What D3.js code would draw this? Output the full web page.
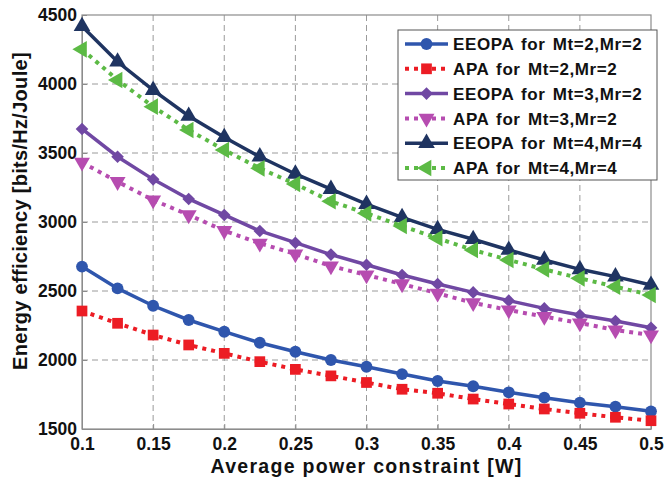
<!DOCTYPE html>
<html>
<head>
<meta charset="utf-8">
<script src="https://cdn.jsdelivr.net/npm/d3@7"></script>
<style>
  body { margin: 0; background: #fff; }
  svg { display: block; font-family: "Liberation Sans", Arial, sans-serif; font-weight: bold; }
</style>
</head>
<body>
<svg id="chart"></svg>
<script>
// x values: average power constraint [W]
const power = [0.1, 0.125, 0.15, 0.175, 0.2, 0.225, 0.25, 0.275, 0.3, 0.325, 0.35, 0.375, 0.4, 0.425, 0.45, 0.475, 0.5];

// energy efficiency [bits/Hz/Joule]
const eeopa22 = [2677, 2519, 2393, 2290, 2205, 2125, 2060, 2000, 1951, 1898, 1848, 1810, 1766, 1727, 1691, 1662, 1628];
const apa22   = [2355, 2266, 2181, 2109, 2048, 1988, 1932, 1885, 1837, 1788, 1759, 1717, 1681, 1645, 1614, 1585, 1560];
const eeopa32 = [3674, 3473, 3309, 3167, 3051, 2935, 2850, 2764, 2690, 2616, 2551, 2490, 2430, 2374, 2326, 2282, 2234];
const apa32   = [3432, 3292, 3159, 3051, 2937, 2846, 2768, 2681, 2616, 2551, 2483, 2414, 2362, 2314, 2268, 2217, 2181];
const eeopa44 = [4418, 4161, 3956, 3768, 3614, 3473, 3348, 3238, 3129, 3034, 2947, 2875, 2797, 2725, 2657, 2604, 2543];
const apa44   = [4251, 4029, 3836, 3667, 3522, 3389, 3275, 3150, 3063, 2971, 2882, 2797, 2725, 2657, 2592, 2531, 2471];

const xTicks = [0.1, 0.15, 0.2, 0.25, 0.3, 0.35, 0.4, 0.45, 0.5];
const yTicks = [1500, 2000, 2500, 3000, 3500, 4000, 4500];

const seriesNames = [
  'EEOPA for Mt=2,Mr=2', 'APA for Mt=2,Mr=2',
  'EEOPA for Mt=3,Mr=2', 'APA for Mt=3,Mr=2',
  'EEOPA for Mt=4,Mr=4', 'APA for Mt=4,Mr=4'
];

const series = [
  { name: seriesNames[0], values: eeopa22, color: '#2f56ad', dash: null, symbol: d3.symbolCircle, size: 110, rot: 0 },
  { name: seriesNames[1], values: apa22, color: '#ec1c24', dash: '4,5', symbol: d3.symbolSquare, size: 115, rot: 0 },
  { name: seriesNames[2], values: eeopa32, color: '#7048a3', dash: null, symbol: d3.symbolSquare, size: 80, rot: 45 },
  { name: seriesNames[3], values: apa32, color: '#b64cb0', dash: '4,5', symbol: d3.symbolTriangle, size: 110, rot: 180 },
  { name: seriesNames[4], values: eeopa44, color: '#1f3461', dash: null, symbol: d3.symbolTriangle, size: 120, rot: 0 },
  { name: seriesNames[5], values: apa44, color: '#5cba45', dash: '4,5', symbol: d3.symbolTriangle, size: 120, rot: -90 }
];

const W = 665, H = 481;
const margin = { top: 15, right: 14, bottom: 52, left: 82 };
const width = W - margin.left - margin.right;
const height = H - margin.top - margin.bottom;

const svg = d3.select('#chart').attr('width', W).attr('height', H);
const g = svg.append('g').attr('transform', `translate(${margin.left},${margin.top})`);

const x = d3.scaleLinear().domain([0.1, 0.5]).range([0, width]);
const y = d3.scaleLinear().domain([1500, 4500]).range([height, 0]);

// grid
g.append('g').selectAll('line').data(xTicks.slice(1, -1)).enter().append('line')
  .attr('x1', d => x(d)).attr('x2', d => x(d)).attr('y1', 0).attr('y2', height)
  .attr('stroke', '#9a9a9a').attr('stroke-width', 1).attr('stroke-dasharray', '6,4');
g.append('g').selectAll('line').data(yTicks.slice(1, -1)).enter().append('line')
  .attr('y1', d => y(d)).attr('y2', d => y(d)).attr('x1', 0).attr('x2', width)
  .attr('stroke', '#9a9a9a').attr('stroke-width', 1).attr('stroke-dasharray', '6,4');

// frame
g.append('rect').attr('width', width).attr('height', height)
  .attr('fill', 'none').attr('stroke', '#8c8c8c').attr('stroke-width', 1.2);

// axes
const xAxis = g.append('g').attr('transform', `translate(0,${height})`)
  .call(d3.axisBottom(x).tickValues(xTicks).tickSizeInner(-5).tickSizeOuter(0).tickPadding(8.5)
    .tickFormat(d => String(+d.toFixed(2))));
const yAxis = g.append('g')
  .call(d3.axisLeft(y).tickValues(yTicks).tickSizeInner(-5).tickSizeOuter(0).tickPadding(5)
    .tickFormat(d3.format('d')));
[xAxis, yAxis].forEach(a => {
  a.select('.domain').attr('stroke', '#8c8c8c');
  a.selectAll('.tick line').attr('stroke', '#8c8c8c');
  a.selectAll('.tick text').attr('fill', '#111').style('font-size', '17.5px')
    .style('font-family', '"Liberation Sans", Arial, sans-serif').style('font-weight', 'bold');
});

// axis labels
svg.append('text')
  .attr('x', margin.left + width / 2).attr('y', 473)
  .attr('text-anchor', 'middle').style('font-size', '19.5px').style('letter-spacing', '1.3px')
  .attr('fill', '#111')
  .text('Average power constraint [W]');
svg.append('text')
  .attr('transform', `translate(27,211) rotate(-90)`)
  .attr('text-anchor', 'middle').style('font-size', '20px').style('letter-spacing', '0.3px')
  .attr('fill', '#111')
  .text('Energy efficiency [bits/Hz/Joule]');

// lines and markers
const line = d3.line().x((d, i) => x(power[i])).y(d => y(d));
series.forEach(s => {
  g.append('path').datum(s.values)
    .attr('d', line).attr('fill', 'none').attr('stroke', s.color)
    .attr('stroke-width', s.dash ? 4 : 3.5)
    .attr('stroke-dasharray', s.dash);
  g.append('g').selectAll('path').data(s.values).enter().append('path')
    .attr('d', d3.symbol().type(s.symbol).size(s.size))
    .attr('transform', (d, i) => `translate(${x(power[i])},${y(d)}) rotate(${s.rot})`)
    .attr('fill', s.color);
});

// legend
const legend = svg.append('g').attr('transform', 'translate(398,30)');
legend.append('rect').attr('width', 259).attr('height', 150)
  .attr('fill', '#fff').attr('stroke', '#555').attr('stroke-width', 1);
const rows = legend.selectAll('.row').data(series).enter().append('g')
  .attr('class', 'row').attr('transform', (d, i) => `translate(0,${14 + i * 24.8})`);
rows.append('line').attr('x1', 7).attr('x2', 50).attr('y1', 0).attr('y2', 0)
  .attr('stroke', d => d.color).attr('stroke-width', d => d.dash ? 4 : 3.5)
  .attr('stroke-dasharray', d => d.dash);
rows.append('path')
  .attr('d', d => d3.symbol().type(d.symbol).size(d.size)())
  .attr('transform', d => `translate(28.5,0) rotate(${d.rot})`)
  .attr('fill', d => d.color);
rows.append('text').attr('x', 55).attr('dy', '0.36em')
  .style('font-size', '17px').attr('fill', '#111')
  .style('word-spacing', '2px').style('letter-spacing', '0.6px')
  .text(d => d.name);
</script>
</body>
</html>
